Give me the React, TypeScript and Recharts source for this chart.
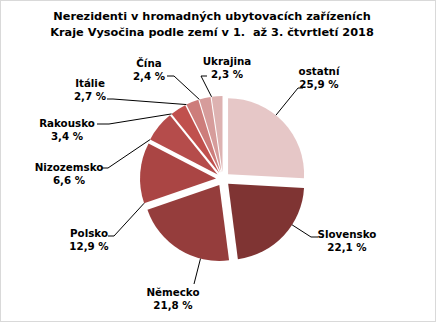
import { PieChart, Pie, Cell, Sector } from 'recharts';

const countries = ['ostatní', 'Slovensko', 'Německo', 'Polsko', 'Nizozemsko', 'Rakousko', 'Itálie', 'Čína', 'Ukrajina'];
const shares = [25.9, 22.1, 21.8, 12.9, 6.6, 3.4, 2.7, 2.4, 2.3];
const colors = ['#e6c7c7', '#7f3433', '#953d3c', '#aa4544', '#b54c4b', '#c0504d', '#cd7d7b', '#d69c9b', '#ddb2b1'];

// where Excel put each label: text centre, elbow of the leader line, end of the short hook
const labelLayout = [
  { tx: 318, ty: 70, ex: 297, ey: 87, hx: 302 },
  { tx: 346, ty: 233, ex: 310, ey: 236, hx: 317 },
  { tx: 172, ty: 291, ex: 193, ey: 283, hx: 193 },
  { tx: 88, ty: 232, ex: 113, ey: 235, hx: 107 },
  { tx: 68, ty: 166, ex: 107, ey: 167, hx: 101 },
  { tx: 66, ty: 122, ex: 108, ey: 123, hx: 96 },
  { tx: 89, ty: 82, ex: 112, ey: 98, hx: 106 },
  { tx: 148, ty: 62, ex: 173, ey: 75, hx: 166 },
  { tx: 226, ty: 60, ex: 200, ey: 75, hx: 206 },
];

const data = countries.map((name, i) => ({ name, value: shares[i] }));

const EXPLODE = 7;
const RAD = Math.PI / 180;
const FONT = '"DejaVu Sans", Verdana, sans-serif';

const fmt = (v: number) => `${v.toFixed(1).replace('.', ',')} %`;

const offset = (cx: number, cy: number, midAngle: number) => ({
  x: cx + EXPLODE * Math.cos(-midAngle * RAD),
  y: cy + EXPLODE * Math.sin(-midAngle * RAD),
});

const renderSlice = (props: any) => {
  const { cx, cy, midAngle } = props;
  const c = offset(cx, cy, midAngle);
  return <Sector {...props} cx={c.x} cy={c.y} stroke="none" />;
};

const renderLabel = (props: any) => {
  const { cx, cy, midAngle, outerRadius, startAngle, endAngle, index } = props;
  const l = labelLayout[index];
  const c = offset(cx, cy, midAngle);
  // start the leader on the slice's arc, as close to the elbow direction as the slice allows
  const lo = Math.min(startAngle, endAngle);
  const hi = Math.max(startAngle, endAngle);
  const raw = Math.atan2(c.y - l.ey, l.ex - c.x) / RAD;
  let a = lo + ((((raw - lo) % 360) + 360) % 360);
  if (a > hi) {
    a = a - hi < lo + 360 - a ? hi : lo;
  }
  const sx = c.x + outerRadius * Math.cos(-a * RAD);
  const sy = c.y + outerRadius * Math.sin(-a * RAD);
  return (
    <g key={`lbl-${index}`}>
      <polyline
        points={`${sx},${sy} ${l.ex},${l.ey} ${l.hx},${l.ey}`}
        fill="none"
        stroke="#000"
        strokeWidth={1}
      />
      <text
        x={l.tx}
        y={l.ty}
        textAnchor="middle"
        dominantBaseline="central"
        fontFamily={FONT}
        fontSize={10.3}
        fontWeight="bold"
        fill="#000"
      >
        <tspan x={l.tx}>{countries[index]}</tspan>
        <tspan x={l.tx} dy={13}>{fmt(shares[index])}</tspan>
      </text>
    </g>
  );
};

export default function App() {
  return (
    <div
      style={{
        position: 'relative',
        width: 436,
        height: 322,
        boxSizing: 'border-box',
        border: '1px solid #d9d9d9',
        background: '#fff',
      }}
    >
      <style>{'body{margin:0}'}</style>
      <div
        style={{
          position: 'absolute',
          left: 0,
          top: 8,
          width: 422,
          textAlign: 'center',
          fontFamily: FONT,
          fontSize: 11.3,
          fontWeight: 'bold',
          lineHeight: '16px',
          color: '#000',
        }}
      >
        Nerezidenti v hromadných ubytovacích zařízeních
        <br />
        Kraje Vysočina podle zemí v 1.&nbsp;&nbsp;až 3. čtvrtletí 2018
      </div>
      <PieChart width={434} height={320} style={{ position: 'absolute', left: 0, top: 0 }}>
        <Pie
          data={data}
          dataKey="value"
          nameKey="name"
          cx={217}
          cy={173}
          outerRadius={76}
          startAngle={90}
          endAngle={-270}
          stroke="none"
          shape={renderSlice}
          label={renderLabel}
          labelLine={false}
          isAnimationActive={false}
        >
          {data.map((d, i) => (
            <Cell key={d.name} fill={colors[i]} />
          ))}
        </Pie>
      </PieChart>
    </div>
  );
}
